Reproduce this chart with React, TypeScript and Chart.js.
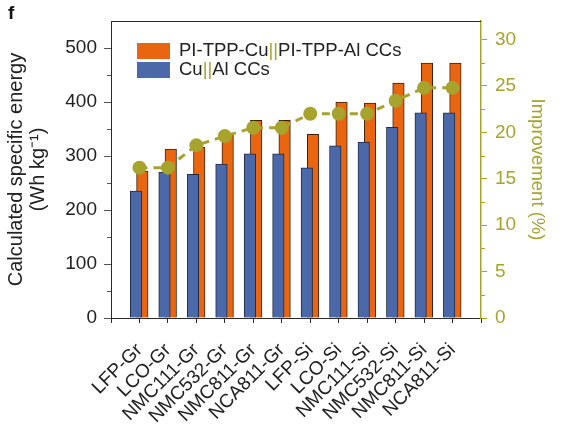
import React, { useEffect, useRef } from 'react';
import { Chart, registerables } from 'chart.js';
Chart.register(...registerables);

const categories = ['LFP-Gr', 'LCO-Gr', 'NMC111-Gr', 'NMC532-Gr', 'NMC811-Gr', 'NCA811-Gr', 'LFP-Si', 'LCO-Si', 'NMC111-Si', 'NMC532-Si', 'NMC811-Si', 'NCA811-Si'];
const cuAl = [235, 270, 266, 285, 304, 304, 278, 319, 326, 353, 380, 380];
const piTpp = [272, 313, 316, 340, 366, 366, 340, 400, 398, 435, 472, 472];
const improvement = [16.2, 16.2, 18.6, 19.6, 20.5, 20.5, 22.0, 22.0, 22.0, 23.4, 24.8, 24.8];
const leftTicks = [0, 100, 200, 300, 400, 500];
const leftMinor = [50, 150, 250, 350, 450];
const rightTicks = [0, 5, 10, 15, 20, 25, 30];
const rightMinor = [2.5, 7.5, 12.5, 17.5, 22.5, 27.5];

const FONT = "'Liberation Sans', Arial, Helvetica, sans-serif";
const OLIVE = '#a8a32c';
const ORANGE = '#ea6510';
const BLUE = '#4b69a8';
const DARK = '#2a2a2a';

export default function App() {
  const ref = useRef<HTMLCanvasElement>(null);
  useEffect(() => {
    if (!ref.current) return;
    const overlay = {
      id: 'overlay',
      afterDraw(chart: any) {
        const { ctx, chartArea: a, scales } = chart;
        ctx.save();
        // top frame line
        ctx.strokeStyle = DARK;
        ctx.lineWidth = 1;
        ctx.beginPath();
        ctx.moveTo(a.left, Math.round(a.top) + 0.5);
        ctx.lineTo(a.right, Math.round(a.top) + 0.5);
        ctx.stroke();
        // minor ticks
        ctx.strokeStyle = '#555';
        for (const v of leftMinor) {
          const p = Math.round(scales.y.getPixelForValue(v)) + 0.5;
          ctx.beginPath();
          ctx.moveTo(a.left - 4, p);
          ctx.lineTo(a.left, p);
          ctx.stroke();
        }
        ctx.strokeStyle = OLIVE;
        for (const v of rightMinor) {
          const p = Math.round(scales.y2.getPixelForValue(v)) + 0.5;
          ctx.beginPath();
          ctx.moveTo(a.right, p);
          ctx.lineTo(a.right + 4, p);
          ctx.stroke();
        }
        // legend
        ctx.fillStyle = ORANGE;
        ctx.fillRect(137, 43, 33, 16);
        ctx.fillStyle = BLUE;
        ctx.fillRect(137, 62, 33, 16);
        ctx.font = `18.5px ${FONT}`;
        ctx.textBaseline = 'middle';
        ctx.textAlign = 'left';
        const drawParts = (parts: [string, string][], x: number, y: number) => {
          let cx = x;
          for (const [t, c] of parts) {
            ctx.fillStyle = c;
            ctx.fillText(t, cx, y);
            cx += ctx.measureText(t).width;
          }
        };
        drawParts([['PI-TPP-Cu', '#222'], ['||', OLIVE], ['PI-TPP-Al CCs', '#222']], 179, 51);
        drawParts([['Cu', '#222'], ['||', OLIVE], ['Al CCs', '#222']], 179, 70);
        // panel label
        ctx.fillStyle = '#111';
        ctx.font = `bold 19px ${FONT}`;
        ctx.textBaseline = 'alphabetic';
        ctx.fillText('f', 8, 19);
        ctx.restore();
      },
    };

    const chart = new Chart(ref.current, {
      type: 'bar',
      data: {
        datasets: [
          {
            type: 'line',
            label: 'Improvement (%)',
            data: improvement.map((v, i) => ({ x: i + 1, y: v })),
            yAxisID: 'y2',
            xAxisID: 'x',
            order: 0,
            borderColor: OLIVE,
            backgroundColor: OLIVE,
            borderWidth: 3,
            borderDash: [8, 6],
            pointRadius: 7,
            pointHoverRadius: 7,
            pointBackgroundColor: OLIVE,
            pointBorderWidth: 0,
            tension: 0,
          } as any,
          {
            type: 'bar',
            label: 'Cu||Al CCs',
            data: cuAl.map((v, i) => ({ x: i + 1 - 0.12, y: v })),
            yAxisID: 'y',
            xAxisID: 'x',
            order: 1,
            backgroundColor: BLUE,
            borderColor: '#1f2a45',
            borderWidth: 1,
            barThickness: 11.5,
            grouped: false,
          } as any,
          {
            type: 'bar',
            label: 'PI-TPP-Cu||PI-TPP-Al CCs',
            data: piTpp.map((v, i) => ({ x: i + 1 + 0.1, y: v })),
            yAxisID: 'y',
            xAxisID: 'x',
            order: 2,
            backgroundColor: ORANGE,
            borderColor: '#3a2210',
            borderWidth: 1,
            barThickness: 11.5,
            grouped: false,
          } as any,
        ],
      },
      options: {
        responsive: false,
        animation: false,
        layout: { padding: { top: 21, left: 0, right: 0, bottom: 0 } },
        plugins: { legend: { display: false }, tooltip: { enabled: false } },
        scales: {
          x: {
            type: 'linear',
            min: 0,
            max: categories.length + 1,
            offset: false,
            grid: { display: true, drawOnChartArea: false, drawTicks: true, tickLength: 5, color: DARK, offset: false },
            border: { color: DARK, width: 1 },
            ticks: {
              autoSkip: false,
              minRotation: 45,
              maxRotation: 45,
              padding: 16,
              color: '#222',
              font: { family: FONT, size: 19 },
              callback: (v: any) => categories[Number(v) - 1] ?? '',
            },
            afterBuildTicks: (s: any) => {
              s.ticks = [0, ...categories.map((_, i) => i + 1), categories.length + 1].map((v) => ({ value: v }));
            },
            afterFit: (s: any) => {
              s.height = 108;
            },
          } as any,
          y: {
            type: 'linear',
            position: 'left',
            min: 0,
            max: 550,
            grid: { drawOnChartArea: false, tickLength: 7, color: '#555' },
            border: { color: DARK, width: 1 },
            ticks: { padding: 7, color: '#222', font: { family: FONT, size: 19 } },
            afterBuildTicks: (s: any) => {
              s.ticks = leftTicks.map((v) => ({ value: v }));
            },
            title: {
              display: true,
              text: ['Calculated specific energy', '(Wh kg\u207B\u00B9)'],
              color: '#222',
              font: { family: FONT, size: 20, lineHeight: 1.1 },
              padding: { top: 5, bottom: 0 },
            },
            afterFit: (s: any) => {
              s.width = 111;
            },
          } as any,
          y2: {
            type: 'linear',
            position: 'right',
            min: 0,
            max: 32,
            grid: { drawOnChartArea: false, tickLength: 6, color: OLIVE },
            border: { color: OLIVE, width: 1.5 },
            ticks: { padding: 8, color: OLIVE, font: { family: FONT, size: 19 } },
            afterBuildTicks: (s: any) => {
              s.ticks = rightTicks.map((v) => ({ value: v }));
            },
            title: {
              display: true,
              text: 'Improvement (%)',
              color: OLIVE,
              font: { family: FONT, size: 18.5, lineHeight: 1.1 },
              padding: { top: 18, bottom: 0 },
            },
            afterFit: (s: any) => {
              s.width = 84;
            },
          } as any,
        },
      },
      plugins: [overlay],
    });
    return () => chart.destroy();
  }, []);

  return (
    <div style={{ position: 'fixed', left: 0, top: 0, width: 565, height: 426, background: '#fff' }}>
      <canvas ref={ref} width={565} height={426} style={{ width: 565, height: 426 }} />
    </div>
  );
}
